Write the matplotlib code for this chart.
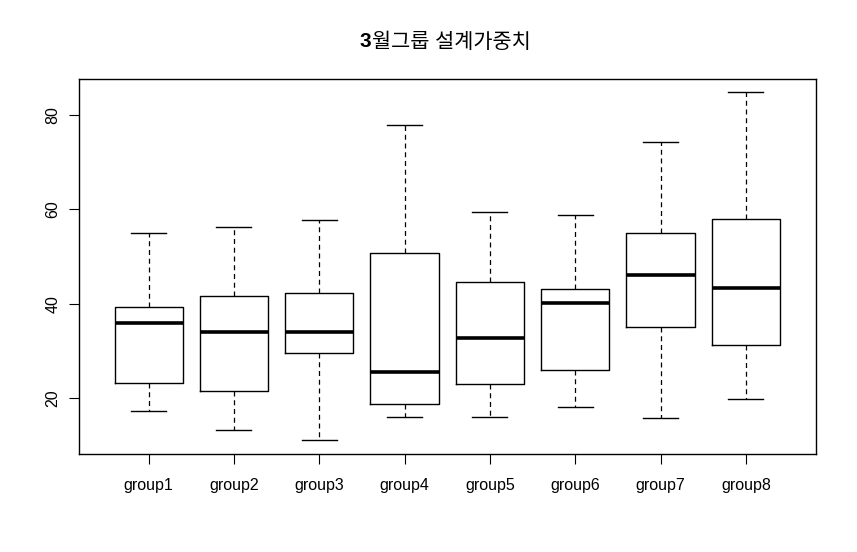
import matplotlib
matplotlib.use("Agg")
import matplotlib.pyplot as plt

plt.rcParams['font.family'] = ['Liberation Sans', 'Noto Sans CJK KR', 'DejaVu Sans']

# 그룹별 상자그림 통계값
groups = ["group1", "group2", "group3", "group4", "group5", "group6", "group7", "group8"]
whisker_low = [17.2, 13.2, 11.1, 16.0, 16.0, 18.1, 15.8, 19.8]
q1 = [23.2, 21.5, 29.5, 18.8, 23.0, 25.9, 35.0, 31.2]
median = [35.9, 34.0, 34.0, 25.6, 32.7, 40.1, 46.0, 43.3]
q3 = [39.3, 41.6, 42.2, 50.7, 44.6, 43.2, 54.9, 57.9]
whisker_high = [54.9, 56.2, 57.7, 77.9, 59.4, 58.8, 74.2, 84.8]

stats = []
for name, lo, a, m, b, hi in zip(groups, whisker_low, q1, median, q3, whisker_high):
    stats.append({"label": name, "whislo": lo, "q1": a, "med": m, "q3": b, "whishi": hi, "fliers": []})

fig = plt.figure(figsize=(8.57, 5.52), dpi=100)
ax = fig.add_axes([0.0918, 0.177, 0.8602, 0.68])

ax.bxp(stats, positions=range(1, len(groups) + 1), widths=0.8, showfliers=False,
       boxprops=dict(color="black", linewidth=1.0),
       medianprops=dict(color="black", linewidth=2.6, solid_capstyle="butt"),
       whiskerprops=dict(color="black", linewidth=0.9, linestyle=(0, (4, 3))),
       capprops=dict(color="black", linewidth=1.0),
       capwidths=0.41)

ax.set_xlim(0.18, 8.82)
ax.set_ylim(8.14, 87.6)
ax.set_yticks([20, 40, 60, 80])
ax.set_xticks(range(1, len(groups) + 1))
ax.set_xticklabels(groups, fontsize=11.5)
for lbl in ax.get_yticklabels():
    lbl.set_rotation(90)
    lbl.set_va("center")
    lbl.set_fontsize(11.5)
ax.tick_params(axis="both", length=7, width=0.8, colors="black", pad=6)
ax.tick_params(axis="x", pad=10)
for sp in ax.spines.values():
    sp.set_linewidth(1.0)

# 제목: 숫자는 굵게, 한글은 보통 굵기
fig.text(0.4325, 0.924, "3", ha="right", va="center", fontsize=15, fontweight="bold")
fig.text(0.4335, 0.924, "월그룹 설계가중치", ha="left", va="center", fontsize=15)

fig.savefig("out.png", dpi=100)
